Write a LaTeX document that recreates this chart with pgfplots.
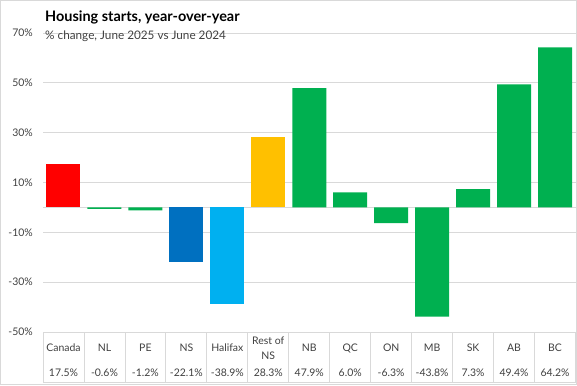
\documentclass[border=0pt]{standalone}
\usepackage{fontspec}
\setmainfont{Lato}
\usepackage{pgfplots}
\pgfplotsset{compat=1.18}
\definecolor{gridc}{HTML}{D9D9D9}
\definecolor{txt}{HTML}{404040}
\definecolor{cred}{HTML}{FF0000}
\definecolor{cgreen}{HTML}{00B050}
\definecolor{cdblue}{HTML}{0070C0}
\definecolor{clblue}{HTML}{00B0F0}
\definecolor{cgold}{HTML}{FFC000}
\begin{document}
\begin{tikzpicture}[x=1bp,y=1bp]
\useasboundingbox (0,0) rectangle (577,385);
\begin{axis}[at={(43bp,53bp)}, anchor=south west, scale only axis,
  width=532.5bp, height=299bp,
  xmin=-0.5, xmax=12.5, ymin=-50, ymax=70,
  axis line style={draw=none}, major tick length=0pt,
  ytick={-50,-30,...,70},
  yticklabels={-50\%,-30\%,-10\%,10\%,30\%,50\%,70\%},
  yticklabel style={anchor=east, inner sep=0pt, xshift=-10bp, text=txt, font=\fontsize{10.5}{12}\selectfont},
  ymajorgrids, grid style={gridc, line width=0.8bp},
  extra y ticks={0}, extra y tick labels={},
  extra y tick style={ymajorgrids=true},
  xtick={0,...,12},
  xticklabels={Canada,NL,PE,NS,Halifax,{Rest of\\NS},NB,QC,ON,MB,SK,AB,BC},
  xticklabel style={anchor=center, yshift=-16bp, align=center, inner sep=0pt, text=txt, font=\fontsize{10.5}{15}\selectfont},
  extra x ticks={0,...,12},
  extra x tick labels={17.5\%,-0.6\%,-1.2\%,-22.1\%,-38.9\%,28.3\%,47.9\%,6.0\%,-6.3\%,-43.8\%,7.3\%,49.4\%,64.2\%},
  extra x tick style={xticklabel style={yshift=-24.7bp}},
  ybar, bar width=0.83, bar shift=0pt,
  clip=false,
]
\addplot[draw=none, fill=cred] coordinates {(0,17.5)};
\addplot[draw=none, fill=cgreen] coordinates {(1,-0.6) (2,-1.2) (6,47.9) (7,6.0) (8,-6.3) (9,-43.8) (10,7.3) (11,49.4) (12,64.2)};
\addplot[draw=none, fill=cdblue] coordinates {(3,-22.1)};
\addplot[draw=none, fill=clblue] coordinates {(4,-38.9)};
\addplot[draw=none, fill=cgold] coordinates {(5,28.3)};
\end{axis}
\foreach \k in {0,...,13} \draw[gridc, line width=0.8bp] ({43+\k*40.96},53) -- ({43+\k*40.96},2.5);
\draw[gridc, line width=0.8bp] (43,2.5) -- (575.5,2.5);
\draw[gridc, line width=1bp] (0.5,0.5) rectangle (576.5,384.5);
\node[anchor=base west, inner sep=0pt, font=\bfseries\fontsize{14.5}{15}\selectfont] at (45,364) {Housing starts, year-over-year};
\node[anchor=base west, inner sep=0pt, text=txt, font=\fontsize{11.8}{12}\selectfont] at (45,346) {\% change, June 2025 vs June 2024};
\end{tikzpicture}
\end{document}
